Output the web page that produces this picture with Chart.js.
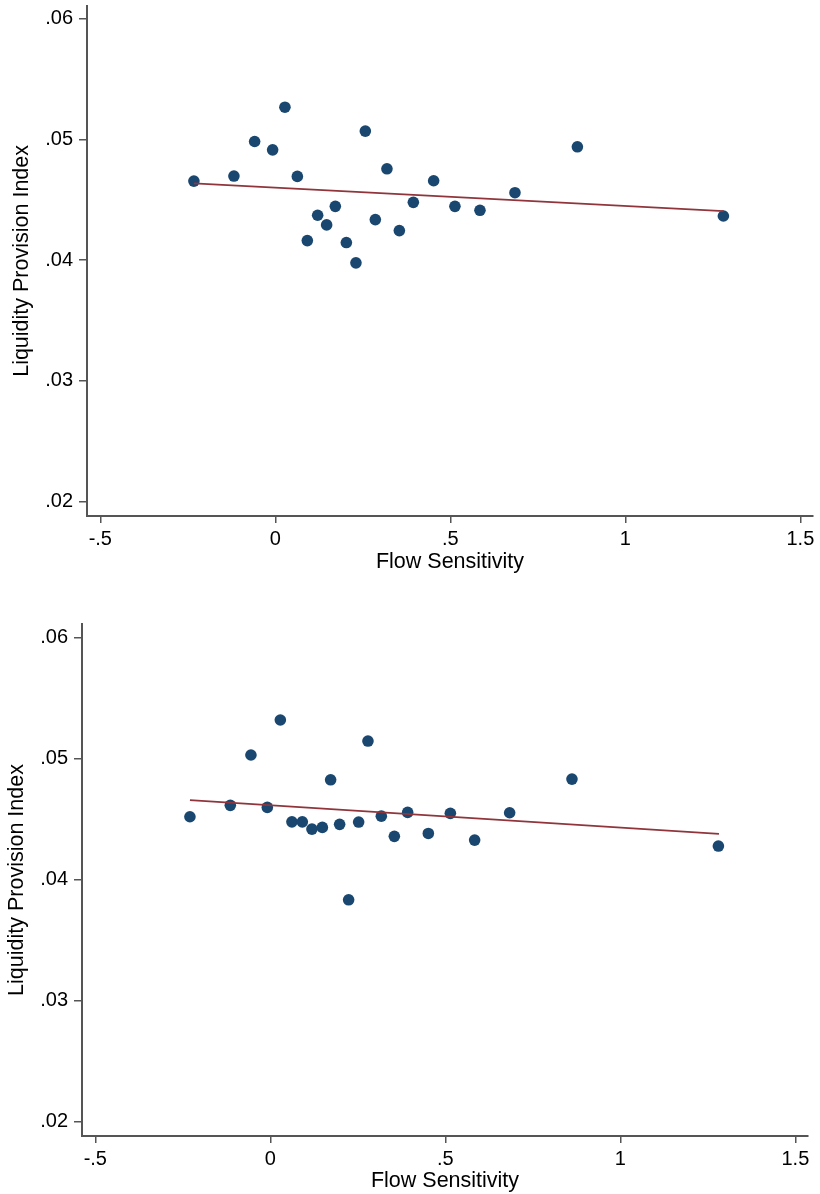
<!DOCTYPE html>
<html>
<head>
<meta charset="utf-8">
<script src="https://cdn.jsdelivr.net/npm/chart.js@4/dist/chart.umd.min.js"></script>
<style>
  html, body { margin: 0; padding: 0; background: #fff; }
  #wrap { position: relative; width: 820px; height: 1194px; overflow: hidden; }
  canvas { position: absolute; left: 0; }
  #c1 { top: 0; }
  #c2 { top: 597px; }
</style>
</head>
<body>
<div id="wrap">
  <canvas id="c1" width="820" height="597"></canvas>
  <canvas id="c2" width="820" height="597"></canvas>
</div>
<script>
// ---------- data ----------
const topX = [-0.2326, -0.1183, -0.0591, -0.0077, 0.0274, 0.0629, 0.0914, 0.1209, 0.1466, 0.1714, 0.2029, 0.2303,
              0.2571, 0.2857, 0.3189, 0.3543, 0.3943, 0.4523, 0.5131, 0.5846, 0.6846, 0.8629, 1.2800];
const topY = [0.04655, 0.04697, 0.04983, 0.04914, 0.05267, 0.04694, 0.04162, 0.04372, 0.04292, 0.04446, 0.04146, 0.03978,
              0.05069, 0.04336, 0.04757, 0.04245, 0.04479, 0.04658, 0.04446, 0.04413, 0.04559, 0.04939, 0.04366];
const topFitX = [-0.2326, 1.2809];
const topFitY = [0.04636, 0.04407];

const bottomX = [-0.2297, -0.1143, -0.0554, -0.0086, 0.0286, 0.0617, 0.0914, 0.1189, 0.1486, 0.1723, 0.1980, 0.2237,
                 0.2523, 0.2789, 0.3171, 0.3543, 0.3923, 0.4514, 0.5143, 0.5837, 0.6837, 0.8617, 1.2800];
const bottomY = [0.04521, 0.04615, 0.05031, 0.04598, 0.05320, 0.04479, 0.04479, 0.04419, 0.04433, 0.04826, 0.04458, 0.03835,
                 0.04477, 0.05146, 0.04526, 0.04359, 0.04557, 0.04383, 0.04549, 0.04328, 0.04554, 0.04832, 0.04279];
const bottomFitX = [-0.2297, 1.2817];
const bottomFitY = [0.04659, 0.04380];

const xTicks = [-0.5, 0, 0.5, 1, 1.5];
const xTickLabels = ["-.5", "0", ".5", "1", "1.5"];
const yTicks = [0.02, 0.03, 0.04, 0.05, 0.06];
const yTickLabels = [".02", ".03", ".04", ".05", ".06"];

const xTitle = "Flow Sensitivity";
const yTitle = "Liquidity Provision Index";

// ---------- styling ----------
Chart.defaults.font.family = "'Liberation Sans', Arial, Helvetica, sans-serif";
Chart.defaults.font.size = 20;
Chart.defaults.color = '#000';

const AXIS = '#555';
const NAVY = '#1a476f';
const MAROON = '#90353b';
const TITLE_FONT = { size: 21.5 };

function pts(xs, ys) { return xs.map((x, i) => ({ x: x, y: ys[i] })); }

function makeChart(id, xs, ys, fx, fy, geo) {
  return new Chart(document.getElementById(id), {
    type: 'scatter',
    data: {
      datasets: [
        {
          type: 'line',
          data: pts(fx, fy),
          borderColor: MAROON,
          borderWidth: 1.8,
          pointRadius: 0,
          fill: false,
          order: 0
        },
        {
          data: pts(xs, ys),
          backgroundColor: NAVY,
          borderColor: NAVY,
          borderWidth: 0,
          pointRadius: 5.8,
          pointHoverRadius: 5.8,
          order: 1
        }
      ]
    },
    options: {
      responsive: false,
      animation: false,
      devicePixelRatio: 1,
      layout: { padding: geo.padding },
      plugins: { legend: { display: false }, tooltip: { enabled: false } },
      scales: {
        x: {
          type: 'linear',
          min: geo.xmin, max: geo.xmax,
          afterBuildTicks: s => { s.ticks = xTicks.map(v => ({ value: v })); },
          afterFit: s => { s.height = geo.xh; s.paddingLeft = 0; s.paddingRight = 0; },
          ticks: {
            callback: (v, i) => xTickLabels[i],
            padding: 4,
            maxRotation: 0,
            autoSkip: false,
            color: '#000'
          },
          grid: { display: true, drawOnChartArea: false, drawTicks: true, tickLength: 7, color: AXIS, lineWidth: 1.5 },
          border: { display: true, color: AXIS, width: 2 },
          title: { display: true, text: xTitle, color: '#000', font: TITLE_FONT, padding: { top: 0, bottom: geo.xtpad } }
        },
        y: {
          type: 'linear',
          min: geo.ymin, max: geo.ymax,
          afterBuildTicks: s => { s.ticks = yTicks.map(v => ({ value: v })); },
          afterFit: s => { s.width = geo.yw; s.paddingTop = 0; s.paddingBottom = 0; },
          ticks: {
            callback: (v, i) => yTickLabels[i],
            padding: 6,
            autoSkip: false,
            color: '#000'
          },
          grid: { display: true, drawOnChartArea: false, drawTicks: true, tickLength: 8, color: AXIS, lineWidth: 1.5 },
          border: { display: true, color: AXIS, width: 2 },
          title: { display: true, text: yTitle, color: '#000', font: TITLE_FONT, padding: { top: geo.ytpad, bottom: 0 } }
        }
      }
    }
  });
}

makeChart('c1', topX, topY, topFitX, topFitY, {
  padding: { top: 4, right: 7, bottom: 0, left: 0 },
  xh: 81, yw: 87, xtpad: 22, ytpad: 9,
  xmin: -0.538, xmax: 1.536, ymin: 0.01881, ymax: 0.06107
});
makeChart('c2', bottomX, bottomY, bottomFitX, bottomFitY, {
  padding: { top: 27, right: 12, bottom: 0, left: 0 },
  xh: 58, yw: 82, xtpad: 0, ytpad: 4,
  xmin: -0.538, xmax: 1.536, ymin: 0.01884, ymax: 0.06113
});
</script>
</body>
</html>
